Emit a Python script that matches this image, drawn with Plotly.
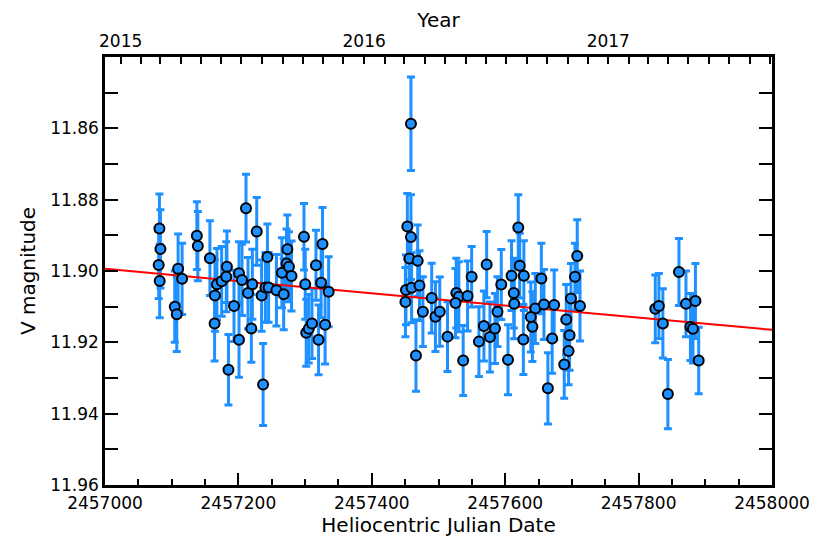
import plotly.graph_objects as go
import pandas as pd

HJD0 = 2457000

# days after HJD 2457000
days = [
    81.6, 83.1, 80.5, 82.0, 104.6, 107.6, 109.6, 115.6, 137.7, 139.2,
    157.3, 164.8, 164.3, 167.8, 174.9, 182.8, 181.8, 185.1, 193.4, 200.9,
    200.9, 205.4, 211.4, 214.4, 219.4, 220.9, 227.5, 234.8, 237.0, 240.5,
    243.5, 245.3, 257.0, 265.2, 267.9, 272.1, 273.4, 275.8, 279.6, 298.3,
    300.2, 301.7, 305.5, 310.3, 316.3, 320.2, 324.0, 326.1, 330.0, 335.3,
    458.7, 453.3, 458.7, 456.4, 468.8, 451.2, 459.7, 471.5, 450.4, 476.6,
    466.2, 489.8, 495.4, 501.9, 513.5, 526.7, 530.5, 525.5, 543.6, 549.7,
    537.0, 560.6, 568.1, 572.2, 577.1, 584.7, 588.4, 594.1, 604.2, 609.5,
    612.9, 613.5, 619.6, 621.8, 628.0, 627.2, 645.1, 638.4, 640.8, 654.2,
    658.1, 673.4, 670.4, 664.0, 708.0, 704.6, 698.6, 712.1, 691.5, 696.5,
    695.0, 688.5,
    825.0, 830.4, 836.4, 843.9, 860.5, 871.0, 885.2, 877.7, 881.5, 890.1,
]

vmag = [
    11.8881, 11.8938, 11.8983, 11.9028, 11.9100, 11.9121, 11.8994, 11.9022, 11.8901, 11.8930,
    11.8964, 11.9069, 11.9147, 11.9037, 11.9029, 11.8988, 11.9016, 11.9277, 11.9098, 11.9006,
    11.9193, 11.9025, 11.8824, 11.9062, 11.9161, 11.9037, 11.8889, 11.9069, 11.9318, 11.9046,
    11.8961, 11.9046, 11.9054, 11.9005, 11.9065, 11.8979, 11.8939, 11.8988, 11.9014, 11.8904,
    11.9037, 11.9173, 11.9162, 11.9147, 11.8984, 11.9193, 11.9033, 11.8924, 11.9151, 11.9058,
    11.8587, 11.8875, 11.8905, 11.8965, 11.8971, 11.9053, 11.9047, 11.9041, 11.9087, 11.9114,
    11.9237, 11.9076, 11.9128, 11.9114, 11.9184, 11.9062, 11.9072, 11.9090, 11.9070, 11.9016,
    11.9251, 11.9198, 11.9154, 11.8982, 11.9185, 11.9161, 11.9114, 11.9038, 11.9249, 11.9013,
    11.9062, 11.9092, 11.8878, 11.8985, 11.9013, 11.9192, 11.9105, 11.9129, 11.9156, 11.9021,
    11.9094, 11.9095, 11.9189, 11.9329, 11.8958, 11.9016, 11.9077, 11.9098, 11.9136, 11.9180,
    11.9224, 11.9262,
    11.9106, 11.9098, 11.9147, 11.9345, 11.9003, 11.9092, 11.9084, 11.9157, 11.9162, 11.9251,
]

verr = [
    0.0097, 0.0110, 0.0094, 0.0103, 0.0100, 0.0105, 0.0098, 0.0100, 0.0095, 0.0097,
    0.0105, 0.0100, 0.0105, 0.0100, 0.0098, 0.0100, 0.0098, 0.0099, 0.0100, 0.0088,
    0.0105, 0.0100, 0.0095, 0.0100, 0.0095, 0.0098, 0.0095, 0.0100, 0.0115, 0.0098,
    0.0093, 0.0098, 0.0100, 0.0098, 0.0100, 0.0097, 0.0096, 0.0098, 0.0098, 0.0093,
    0.0098, 0.0094, 0.0096, 0.0098, 0.0098, 0.0098, 0.0098, 0.0102, 0.0110, 0.0098,
    0.0131, 0.0092, 0.0119, 0.0097, 0.0100, 0.0098, 0.0098, 0.0098, 0.0097, 0.0098,
    0.0100, 0.0098, 0.0098, 0.0097, 0.0098, 0.0098, 0.0098, 0.0097, 0.0098, 0.0085,
    0.0098, 0.0098, 0.0098, 0.0093, 0.0098, 0.0098, 0.0098, 0.0098, 0.0098, 0.0098,
    0.0098, 0.0098, 0.0092, 0.0091, 0.0098, 0.0098, 0.0098, 0.0098, 0.0098, 0.0099,
    0.0098, 0.0098, 0.0098, 0.0100, 0.0102, 0.0094, 0.0098, 0.0098, 0.0098, 0.0098,
    0.0095, 0.0095,
    0.0095, 0.0091, 0.0097, 0.0097, 0.0094, 0.0092, 0.0105, 0.0094, 0.0096, 0.0093,
]

# linear trend evaluated at the axis ends
fit_hjd = [2457000, 2458000]
fit_mag = [11.8994, 11.9165]

hjd = [HJD0 + d for d in days]

x_range = [2457000, 2458000]
y_range = [11.96, 11.84]
y_labels = [11.86, 11.88, 11.90, 11.92, 11.94, 11.96]

months = pd.date_range("2014-12-01", "2018-01-01", freq="MS")
month_jd = [m.to_julian_date() for m in months]
month_txt = [str(m.year) if m.month == 1 else "" for m in months]

blue = "#1e90ff"
font = dict(family="DejaVu Sans", size=17, color="black")

fig = go.Figure()

# error bars only (drawn first)
fig.add_trace(go.Scatter(
    x=hjd, y=vmag, mode="markers",
    marker=dict(size=1, opacity=0),
    error_y=dict(type="data", array=verr, color=blue, thickness=3, width=4),
    hoverinfo="skip", showlegend=False,
))

fig.add_trace(go.Scatter(
    x=fit_hjd, y=fit_mag, mode="lines",
    line=dict(color="red", width=2), showlegend=False,
))

fig.add_trace(go.Scatter(
    x=hjd, y=vmag, mode="markers",
    marker=dict(size=10, color=blue, line=dict(color="black", width=2)),
    showlegend=False,
))

# invisible trace so the top axis is drawn
fig.add_trace(go.Scatter(
    x=x_range, y=[None, None], xaxis="x2", mode="markers",
    hoverinfo="skip", showlegend=False,
))

fig.update_layout(
    width=830, height=554,
    margin=dict(l=97, r=66, t=49, b=77),
    paper_bgcolor="white", plot_bgcolor="white",
    font=font,
    xaxis=dict(
        range=x_range, showgrid=False, zeroline=False, automargin=False,
        showline=True, linecolor="black", linewidth=2.5,
        ticks="inside", ticklen=12, tickwidth=1.5, tickcolor="black",
        dtick=200, tick0=2457000, tickformat="d",
        minor=dict(dtick=50, ticks="inside", ticklen=6, tickwidth=1.5, tickcolor="black"),
        title=dict(text="Heliocentric Julian Date", standoff=3),
        ticklabelstandoff=1,
    ),
    xaxis2=dict(
        overlaying="x", side="top", range=x_range, automargin=False,
        showgrid=False, zeroline=False,
        showline=True, linecolor="black", linewidth=2.5,
        ticks="inside", ticklen=7, tickwidth=1.5, tickcolor="black",
        tickmode="array", tickvals=month_jd, ticktext=month_txt,
        tickfont=dict(family="DejaVu Sans", size=17, color="black"),
        title=dict(text="Year", standoff=0),
    ),
    yaxis=dict(
        range=y_range, showgrid=False, zeroline=False, automargin=False,
        showline=True, linecolor="black", linewidth=2.5, mirror="ticks",
        ticks="inside", ticklen=13, tickwidth=1.5, tickcolor="black",
        tickmode="array", tickvals=y_labels, tickformat=".2f",
        minor=dict(tickmode="linear", tick0=11.84, dtick=0.01, ticks="inside",
                   ticklen=13, tickwidth=1.5, tickcolor="black"),
        title=dict(text="V magnitude", standoff=10),
    ),
)

fig.write_html("out.html")
